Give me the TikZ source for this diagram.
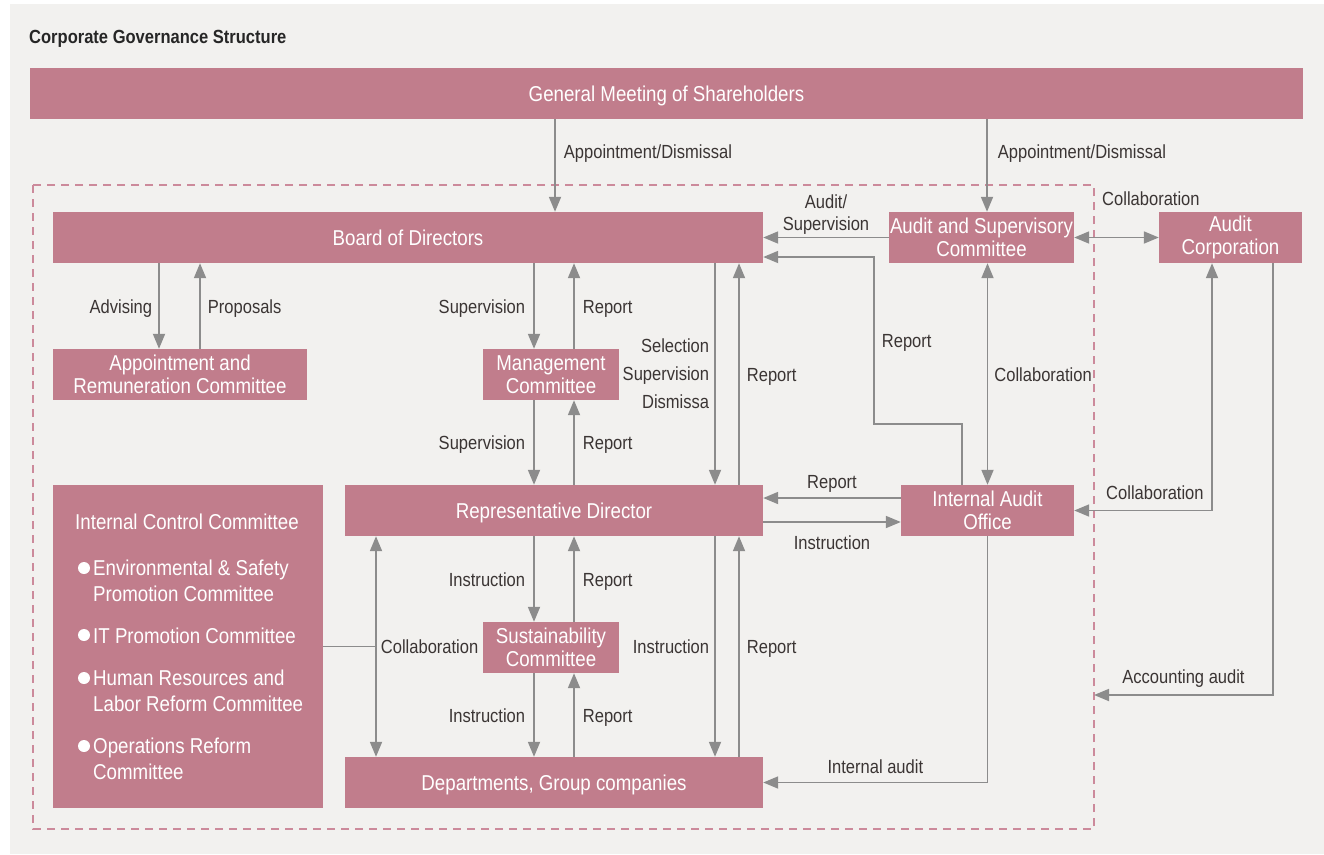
\documentclass[tikz,border=0pt]{standalone}
\usepackage{fontspec}
\setmainfont[FakeStretch=0.87]{Liberation Sans}
\usetikzlibrary{arrows.meta}
\definecolor{boxpink}{HTML}{C17D8C}
\definecolor{bggray}{HTML}{F2F1EF}
\definecolor{arrgray}{HTML}{8C8C8C}
\definecolor{dashpink}{HTML}{CC8A9B}
\definecolor{lbltext}{HTML}{3B3534}

\begin{document}
\begin{tikzpicture}[x=1pt,y=-1pt,
  box/.style={fill=boxpink,text=white,inner sep=0pt,align=center,font=\fontsize{21.5}{23}\selectfont},
  oneline/.style={text height=16.5pt,text depth=0pt},
  lbl/.style={text=lbltext,inner sep=0pt,font=\fontsize{19}{22}\selectfont,text height=16pt,text depth=2pt},
  lbltwo/.style={text=lbltext,inner sep=0pt,font=\fontsize{19}{22}\selectfont},
  icctext/.style={text=white,inner sep=0pt,anchor=west,align=left,font=\fontsize{21.5}{26}\selectfont},
  arr/.style={draw=arrgray,line width=1.8pt,-{Triangle[length=15pt,width=12pt]}},
  arrs/.style={draw=arrgray,line width=1.8pt,{Triangle[length=15pt,width=12pt]}-{Triangle[length=15pt,width=12pt]}},
  ln/.style={draw=arrgray,line width=1.8pt}]
\useasboundingbox (0,0) rectangle (1324,854);
\fill[white] (0,0) rectangle (1324,854);
\fill[bggray] (10,4) rectangle (1324,854);
\node[anchor=base west,inner sep=0pt,text=black!85,font=\bfseries\fontsize{19}{22}\selectfont] (title) at (29,43) {Corporate Governance Structure};

\draw[dashpink,line width=1.5pt,dash pattern=on 8pt off 6pt] (33,185) rectangle (1094,829);
\coordinate (acc) at (1094,695);

\node[box,oneline,minimum width=1273pt,minimum height=51pt] (gms) at (666.5,93.5) {General Meeting of Shareholders};
\node[box,oneline,minimum width=710pt,minimum height=51pt] (bod) at (408,237.5) {Board of Directors};
\node[box,minimum width=185pt,minimum height=51pt] (asc) at (981.5,237.5) {Audit and Supervisory\\Committee};
\node[box,minimum width=143pt,minimum height=51pt] (acorp) at (1230.5,237.5) {Audit\\Corporation};
\node[box,minimum width=254pt,minimum height=51pt] (arc) at (180,374.5) {Appointment and\\Remuneration Committee};
\node[box,minimum width=136pt,minimum height=51pt] (mgmt) at (551,374.5) {Management\\Committee};
\node[box,oneline,minimum width=418pt,minimum height=51pt] (rep) at (554,510.5) {Representative Director};
\node[box,minimum width=173pt,minimum height=51pt] (iao) at (987.5,510.5) {Internal Audit\\Office};
\node[box,minimum width=270pt,minimum height=323pt] (icc) at (188,646.5) {};
\node[box,minimum width=136pt,minimum height=51pt] (sust) at (551,647.5) {Sustainability\\Committee};
\node[box,oneline,minimum width=418pt,minimum height=51pt] (dept) at (554,782.5) {Departments, Group companies};

\node[icctext] (icct) at (75,522) {Internal Control Committee};
\fill[white] (84,568) circle (6pt);
\node[icctext] (icc1) at (93,581) {Environmental \& Safety\\Promotion Committee};
\fill[white] (84,635) circle (6pt);
\node[icctext] (icc2) at (93,636) {IT Promotion Committee};
\fill[white] (84,678) circle (6pt);
\node[icctext] (icc3) at (93,690.5) {Human Resources and\\Labor Reform Committee};
\fill[white] (84,746) circle (6pt);
\node[icctext] (icc4) at (93,758.5) {Operations Reform\\Committee};

\draw[arr] ([xshift=147pt]bod.north |- gms.south) -- ([xshift=147pt]bod.north) node[lbl,pos=0.35,right=8pt] (l1) {Appointment/Dismissal};
\draw[arr] ([xshift=5.5pt]asc.north |- gms.south) -- ([xshift=5.5pt]asc.north) node[lbl,pos=0.35,right=10pt] (l2) {Appointment/Dismissal};
\draw[arr] (asc.west) -- (asc.west -| bod.east) node[lbltwo,midway,above=2pt,align=center,font=\fontsize{19}{22}\selectfont] (l3) {Audit/\\Supervision};
\draw[arr] ([xshift=-25.5pt]iao.north) -- ++(0,-61) -- ++(-88,0) |- ([yshift=-19.5pt]bod.east) node[lbl,pos=0.25,right=7pt] (l4) {Report};
\draw[arrs] (asc.east) -- (acorp.west);
\node[lbl,anchor=west] (l5) at (1102,198) {Collaboration};
\draw[arrs] (iao.north |- asc.south) -- (iao.north) node[lbl,midway,right=6pt] (l6) {Collaboration};
\draw[arrs] ([xshift=-18.5pt]acorp.south) |- (iao.east);
\node[lbl,anchor=west] (l7) at (1106,492) {Collaboration};
\draw[arr] ([xshift=42.5pt]acorp.south) |- (acc) node[lbl,pos=0.75,above=9pt] (l8) {Accounting audit};
\draw[arr] (iao.south) |- (dept.east) node[lbl,pos=0.75,above=6pt] (l9) {Internal audit};
\draw[arr] ([yshift=12.5pt]iao.west) -- ([yshift=12.5pt]iao.west -| rep.east) node[lbl,midway,above=7pt] (l10) {Report};
\draw[arr] ([yshift=-11.5pt]iao.west -| rep.east) -- ([yshift=-11.5pt]iao.west) node[lbl,midway,below=11pt] (l11) {Instruction};

\draw[arr] ([xshift=-21pt]arc.north |- bod.south) -- ([xshift=-21pt]arc.north) node[lbl,midway,left=6pt] (l12) {Advising};
\draw[arr] ([xshift=20pt]arc.north) -- ([xshift=20pt]arc.north |- bod.south) node[lbl,midway,right=7pt] (l13) {Proposals};
\draw[arr] ([xshift=-17pt]mgmt.north |- bod.south) -- ([xshift=-17pt]mgmt.north) node[lbl,midway,left=8pt] (l14) {Supervision};
\draw[arr] ([xshift=23pt]mgmt.north) -- ([xshift=23pt]mgmt.north |- bod.south) node[lbl,midway,right=8pt] (l15) {Report};
\draw[arr] ([xshift=-17pt]mgmt.south) -- ([xshift=-17pt]mgmt.south |- rep.north) node[lbl,midway,left=8pt] (l16) {Supervision};
\draw[arr] ([xshift=23pt]mgmt.south |- rep.north) -- ([xshift=23pt]mgmt.south) node[lbl,midway,right=8pt] (l17) {Report};
\draw[arr] ([xshift=161pt]rep.north |- bod.south) -- ([xshift=161pt]rep.north) node[lbltwo,midway,left=5pt,align=right,font=\fontsize{19}{28}\selectfont] (l18) {Selection\\Supervision\\Dismissa};
\draw[arr] ([xshift=185pt]rep.north) -- ([xshift=185pt]rep.north |- bod.south) node[lbl,midway,right=7pt] (l19) {Report};

\draw[arr] ([xshift=-17pt]sust.north |- rep.south) -- ([xshift=-17pt]sust.north) node[lbl,midway,left=8pt] (l20) {Instruction};
\draw[arr] ([xshift=23pt]sust.north) -- ([xshift=23pt]sust.north |- rep.south) node[lbl,midway,right=8pt] (l21) {Report};
\draw[arr] ([xshift=-17pt]sust.south) -- ([xshift=-17pt]sust.south |- dept.north) node[lbl,midway,left=8pt] (l22) {Instruction};
\draw[arr] ([xshift=23pt]sust.south |- dept.north) -- ([xshift=23pt]sust.south) node[lbl,midway,right=8pt] (l23) {Report};
\draw[arr] ([xshift=161pt]rep.south) -- ([xshift=161pt]dept.north) node[lbl,midway,left=5pt] (l24) {Instruction};
\draw[arr] ([xshift=185pt]dept.north) -- ([xshift=185pt]rep.south) node[lbl,midway,right=7pt] (l25) {Report};
\draw[arrs] ([xshift=-178pt]rep.south) -- ([xshift=-178pt]dept.north) node[lbl,midway,right=4pt] (l26) {Collaboration};
\draw[ln] (icc.east) -- ([xshift=-178pt]rep.south |- icc.east);
\end{tikzpicture}
\end{document}
